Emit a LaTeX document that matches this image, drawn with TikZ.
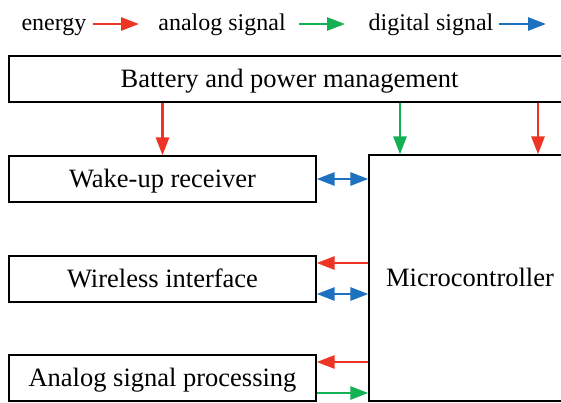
\documentclass[tikz,border=0pt]{standalone}
\usepackage{fontspec}
\setmainfont{Liberation Serif}
\newfontfamily\tnrfont{Liberation Serif}
\usetikzlibrary{arrows.meta}
\definecolor{cred}{RGB}{238,52,36}
\definecolor{cgreen}{RGB}{20,176,84}
\definecolor{cblue}{RGB}{30,112,192}
\tikzset{
  blockbox/.style={draw=black,line width=1.3pt,inner sep=0pt,fill=white,
    text height=17.5pt,text depth=0pt,
    font=\tnrfont\fontsize{26.5}{30}\selectfont},
  legtext/.style={inner sep=0pt,anchor=base,font=\tnrfont\fontsize{24}{28}\selectfont},
  tip/.style={-{Triangle[length=18pt,width=13pt]}},
  dtip/.style={{Triangle[length=18pt,width=13pt]}-{Triangle[length=18pt,width=13pt]}},
  en/.style={tip,draw=cred,fill=cred,line width=2.8pt},
  an/.style={tip,draw=cgreen,fill=cgreen,line width=2.8pt},
  di/.style={dtip,draw=cblue,fill=cblue,line width=2.8pt},
  dione/.style={tip,draw=cblue,fill=cblue,line width=2.8pt},
}
\begin{document}
\begin{tikzpicture}[x=1pt,y=-1pt]
\useasboundingbox (0,0) rectangle (561,402);
% legend
\node[legtext] (l1) at (54,30) {energy};
\node[legtext] (l2) at (222,30) {analog signal};
\node[legtext] (l3) at (431,30) {digital signal};
\coordinate (s1) at (93,24);
\coordinate (s2) at (299,24);
\coordinate (s3) at (499,24);
\coordinate (e1) at (139,24);
\coordinate (e2) at (345,24);
\coordinate (e3) at (546,24);
\draw[en] (s1) -- (e1);
\draw[an] (s2) -- (e2);
\draw[dione] (s3) -- (e3);
% blocks
\node[blockbox,minimum width=561pt,minimum height=46pt] (batt) at (289.5,79) {Battery and power management};
\node[blockbox,minimum width=307pt,minimum height=46pt] (wake) at (162.5,179) {Wake-up receiver};
\node[blockbox,minimum width=307pt,minimum height=46pt] (wire) at (162.5,279) {Wireless interface};
\node[blockbox,minimum width=307pt,minimum height=46pt] (ana) at (162.5,378) {Analog signal processing};
\node[blockbox,minimum width=202pt,minimum height=246pt] (micro) at (470,278) {Microcontroller};
% helper coordinates
\coordinate (gx) at (400,0);
\coordinate (rx) at (538,0);
\coordinate (y1) at (0,263);
\coordinate (y2) at (0,294);
\coordinate (y3) at (0,362);
\coordinate (y4) at (0,393);
% vertical arrows
\draw[en] (batt.south -| wake.north) -- (wake.north);
\draw[an] (batt.south -| gx) -- (micro.north -| gx);
\draw[en] (batt.south -| rx) -- (micro.north -| rx);
% horizontal arrows
\draw[di] (wake.east) -- (micro.west |- wake.east);
\draw[en] (micro.west |- y1) -- (wire.east |- y1);
\draw[di] (wire.east |- y2) -- (micro.west |- y2);
\draw[en] (micro.west |- y3) -- (ana.east |- y3);
\draw[an] (ana.east |- y4) -- (micro.west |- y4);
\end{tikzpicture}
\end{document}
